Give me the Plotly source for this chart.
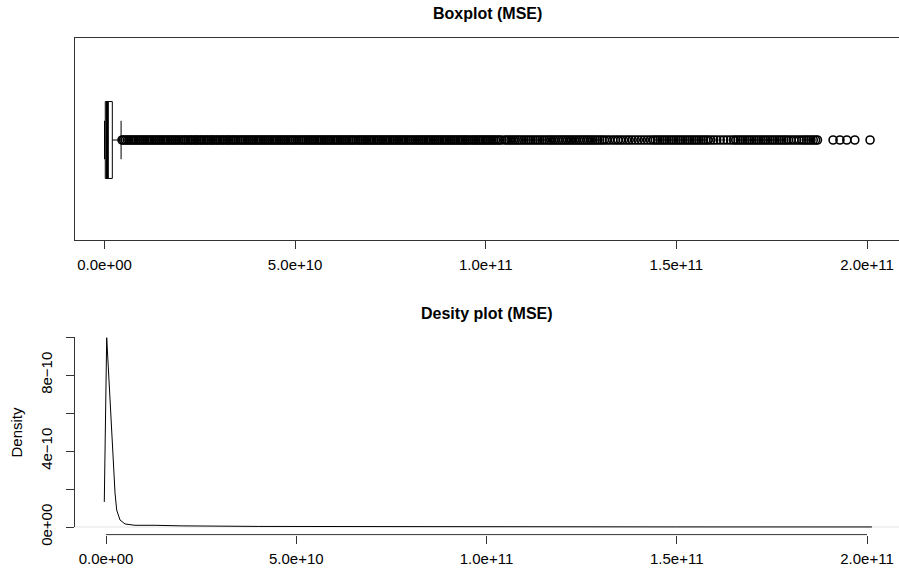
import plotly.graph_objects as go

# ---------------- data (MSE values in units of 1e9, density in units of 1e-10) ----------------
box_q1_e9 = [0.2]
box_median_e9 = [0.75]
box_q3_e9 = [2.05]
box_lower_e9 = [0.0]
box_upper_e9 = [4.35]

outliers_e9 = [
    4.6, 5.0, 5.5, 6.0, 6.4, 6.9, 7.4, 7.8, 8.3, 8.8, 9.2, 9.7, 10.2, 10.6, 11.1, 11.6, 12.0, 12.5, 13.0, 13.4, 13.9,
    14.4, 14.8, 15.3, 15.8, 16.2, 16.7, 17.2, 17.6, 18.1, 18.6, 19.0, 19.5, 20.0, 20.5, 21.0, 21.4, 21.9, 22.4, 22.8, 23.3, 23.8,
    24.2, 24.7, 25.2, 25.6, 26.1, 26.6, 27.0, 27.5, 28.0, 28.4, 28.9, 29.4, 29.8, 30.3, 30.8, 31.2, 31.7, 32.2, 32.6, 33.1, 33.6,
    34.0, 34.5, 35.0, 35.5, 36.0, 36.4, 36.9, 37.4, 37.8, 38.3, 38.8, 39.2, 39.7, 40.2, 40.6, 41.1, 41.6, 42.0, 42.5, 43.0, 43.4,
    43.9, 44.4, 44.8, 45.3, 45.8, 46.2, 46.7, 47.2, 47.6, 48.1, 48.6, 49.0, 49.5, 50.0, 50.5, 51.0, 51.5, 52.0, 52.4, 52.9, 53.4,
    53.8, 54.3, 54.8, 55.2, 55.7, 56.2, 56.6, 57.1, 57.6, 58.0, 58.5, 59.0, 59.4, 59.9, 60.4, 60.8, 61.3, 61.8, 62.2, 62.7, 63.2,
    63.6, 64.1, 64.6, 65.0, 65.5, 66.0, 66.5, 67.0, 67.4, 67.9, 68.4, 68.8, 69.3, 69.8, 70.2, 70.7, 71.2, 71.6, 72.1, 72.6, 73.0,
    73.5, 74.0, 74.4, 74.9, 75.4, 75.8, 76.3, 76.8, 77.2, 77.7, 78.2, 78.6, 79.1, 79.6, 80.0, 80.5, 81.0, 81.5, 82.0, 82.4, 82.9,
    83.4, 83.8, 84.3, 84.8, 85.2, 85.7, 86.2, 86.6, 87.1, 87.6, 88.0, 88.5, 89.0, 89.4, 89.9, 90.4, 90.8, 91.3, 91.8, 92.2, 92.7,
    93.2, 93.6, 94.1, 94.6, 95.0, 95.5, 96.0, 96.5, 97.0, 97.4, 97.9, 98.4, 98.8, 99.3, 99.8, 100.2, 100.7, 101.2, 101.6, 102.1,
    102.6, 103.1, 103.6, 104.1,
    105.0, 105.5, 106.1, 106.6, 107.2, 107.7, 108.3, 108.8, 109.4, 110.0, 110.6, 111.2, 111.8, 112.4, 113.0, 113.6, 114.2,
    114.8, 115.4, 116.0, 116.6, 117.1, 117.7, 118.2, 118.8, 119.3, 119.9, 120.4, 121.0, 121.5, 122.1, 122.6, 123.2, 123.7,
    124.3, 124.8, 125.4, 125.9, 126.5, 127.0, 127.6, 128.1, 128.7, 129.3, 129.9, 130.5, 131.1, 131.8, 132.5, 133.3, 134.0,
    134.7, 135.4, 136.1, 136.9, 137.6, 138.4, 139.2, 140.0, 140.8, 141.6, 142.4, 143.2, 143.9, 144.5, 145.1, 145.7, 146.3,
    146.9, 147.5, 148.1, 148.7, 149.3, 149.9, 150.5, 151.1, 151.7, 152.3, 152.9, 153.5, 154.1, 154.7, 155.3, 155.9, 156.5,
    157.1, 157.7, 158.3, 159.0, 159.8, 160.6, 161.5, 162.4, 163.3, 164.2, 165.0, 165.6, 166.2, 166.8, 167.4, 168.0, 168.6,
    169.2, 169.8, 170.4, 171.0, 171.6, 172.2, 172.8, 173.4, 174.0, 174.6, 175.2, 175.8, 176.4, 177.0, 177.6, 178.2, 178.8,
    179.4, 180.1, 180.8, 181.5, 182.2, 182.9, 183.5, 184.1, 184.7, 185.3, 185.9, 186.5, 187.0,
    191.1, 192.9, 194.7, 196.8, 200.8,
]

density_x_e9 = [-0.45, 0.18, 0.6, 1.05, 1.5, 1.92, 2.37, 2.81, 3.68, 5.0, 7.6, 12.9, 20.0, 40.0, 60.0, 100.0, 150.0, 201.3]
density_y_e10 = [1.32, 9.96, 8.43, 6.68, 4.95, 3.17, 1.79, 0.89, 0.37, 0.16, 0.09, 0.09, 0.06, 0.03, 0.02, 0.01, 0.005, 0.002]

x_ticks = [0.0, 5.0e10, 1.0e11, 1.5e11, 2.0e11]
x_tick_labels = ["0.0e+00", "5.0e+10", "1.0e+11", "1.5e+11", "2.0e+11"]
y_ticks = [0.0, 2e-10, 4e-10, 6e-10, 8e-10, 1e-9]
y_tick_labels = ["0e+00", "", "4e\u221210", "", "8e\u221210", ""]

title_top = "Boxplot (MSE)"
title_bottom = "Desity plot (MSE)"
y_title_bottom = "Density"

# ---------------- conversion ----------------
E9 = 1e9
q1 = [v * E9 for v in box_q1_e9]
med = [v * E9 for v in box_median_e9]
q3 = [v * E9 for v in box_q3_e9]
lo = [v * E9 for v in box_lower_e9]
hi = [v * E9 for v in box_upper_e9]
outliers = [v * E9 for v in outliers_e9]
dens_x = [v * E9 for v in density_x_e9]
dens_y = [v * 1e-10 for v in density_y_e10]

W, H = 899, 574
FONT = "Liberation Sans, Arial, Helvetica, sans-serif"
BOX_W = 0.41

fig = go.Figure()

# top: boxplot
fig.add_trace(go.Box(
    q1=q1, median=med, q3=q3, lowerfence=lo, upperfence=hi, y=[1],
    orientation="h", boxpoints=False, width=BOX_W, whiskerwidth=0.5,
    fillcolor="white", line=dict(color="black", width=1),
    xaxis="x", yaxis="y", showlegend=False, hoverinfo="skip",
))
fig.add_trace(go.Scatter(
    x=[med[0], med[0]], y=[1 - BOX_W / 2, 1 + BOX_W / 2], mode="lines",
    line=dict(color="black", width=3), xaxis="x", yaxis="y", showlegend=False, hoverinfo="skip",
))
fig.add_trace(go.Scatter(
    x=outliers, y=[1] * len(outliers), mode="markers",
    marker=dict(symbol="circle-open", size=8, color="black", line=dict(width=1.6, color="black")),
    xaxis="x", yaxis="y", showlegend=False, hoverinfo="skip",
))

# bottom: density
fig.add_trace(go.Scatter(
    x=dens_x, y=dens_y, mode="lines", line=dict(color="black", width=1),
    xaxis="x2", yaxis="y2", showlegend=False, hoverinfo="skip",
))

xdom = [74.5 / W, 1.0]
top_dom = [1 - 240 / H, 1 - 37.5 / H]
bot_dom = [1 - 534.6 / H, 1 - 329.4 / H]

tickfont = dict(family=FONT, size=15, color="black")

fig.update_layout(
    width=W, height=H, autosize=False, margin=dict(l=0, r=0, t=0, b=0, pad=0),
    paper_bgcolor="white", plot_bgcolor="white",
    font=dict(family=FONT, color="black"),
    xaxis=dict(domain=xdom, range=[-7.87e9, 208.39e9], tickvals=x_ticks, ticktext=x_tick_labels,
               ticks="outside", ticklen=8, tickcolor="#333", tickwidth=1, tickfont=tickfont,
               showgrid=False, zeroline=False, showline=True, mirror=True, linecolor="#333", linewidth=1,
               anchor="y", automargin=False, ticklabelstandoff=3),
    yaxis=dict(domain=top_dom, range=[0.4667, 1.5467], showticklabels=False, ticks="",
               showgrid=False, zeroline=False, showline=True, linecolor="#333", linewidth=1, anchor="x",
               automargin=False),
    xaxis2=dict(domain=xdom, range=[-8.28e9, 208.41e9], tickvals=x_ticks, ticktext=x_tick_labels,
                ticks="outside", ticklen=8, tickcolor="#333", tickwidth=1, tickfont=tickfont,
                showgrid=False, zeroline=False, showline=False, anchor="y2", automargin=False,
                ticklabelstandoff=2),
    yaxis2=dict(domain=bot_dom, range=[-0.04e-9, 1.04e-9], tickvals=y_ticks, ticktext=y_tick_labels,
                ticks="outside", ticklen=8, tickcolor="#333", tickwidth=1, tickfont=tickfont, tickangle=-90,
                showgrid=False, zeroline=False, showline=False, anchor="x2", automargin=False,
                ticklabelstandoff=8),
    shapes=[
        dict(type="line", xref="x2", yref="y2 domain", x0=x_ticks[0], x1=x_ticks[-1], y0=0, y1=0,
             line=dict(color="#333", width=1)),
        dict(type="line", xref="x2 domain", yref="y2", x0=0, x1=0, y0=y_ticks[0], y1=y_ticks[-1],
             line=dict(color="#333", width=1)),
        dict(type="line", xref="x2 domain", yref="y2", x0=0, x1=1, y0=0, y1=0,
             line=dict(color="#d0d0d0", width=0.6), layer="below"),
    ],
    annotations=[
        dict(text="<b>" + title_top + "</b>", x=487 / W, y=1 - 13 / H, xref="paper", yref="paper",
             showarrow=False, font=dict(family=FONT, size=16, color="black"), xanchor="center", yanchor="middle"),
        dict(text="<b>" + title_bottom + "</b>", x=487 / W, y=1 - 313 / H, xref="paper", yref="paper",
             showarrow=False, font=dict(family=FONT, size=16, color="black"), xanchor="center", yanchor="middle"),
        dict(text=y_title_bottom, x=15.5 / W, y=1 - 432 / H, xref="paper", yref="paper", textangle=-90,
             showarrow=False, font=dict(family=FONT, size=15, color="black"), xanchor="center", yanchor="middle"),
    ],
)

fig.write_html("out.html", config={"responsive": False})
